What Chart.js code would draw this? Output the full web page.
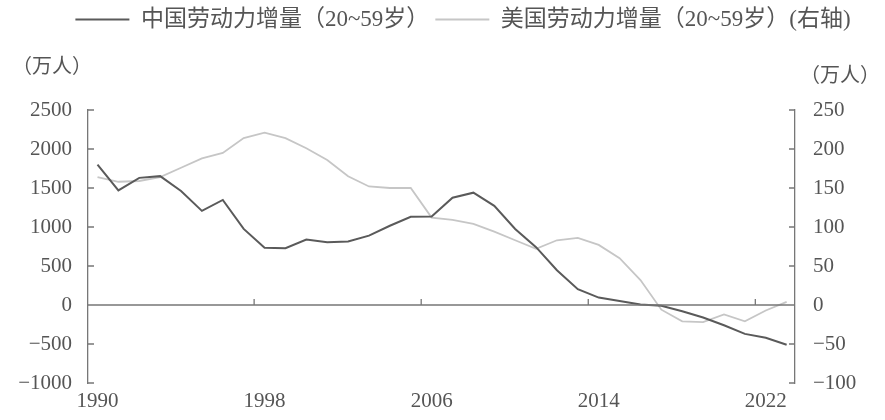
<!DOCTYPE html>
<html><head><meta charset="utf-8">
<script src="https://cdn.jsdelivr.net/npm/chart.js@4.4.1/dist/chart.umd.min.js"></script>
<style>html,body{margin:0;padding:0;background:#fff;} #wrap{width:885px;height:420px;position:relative;}</style>
</head><body><div id="wrap"><canvas id="c"></canvas></div>
<script>
const years = [1990,1991,1992,1993,1994,1995,1996,1997,1998,1999,2000,2001,2002,2003,2004,2005,2006,2007,2008,2009,2010,2011,2012,2013,2014,2015,2016,2017,2018,2019,2020,2021,2022,2023];
const chinaLabor = [1800,1470,1630,1652,1461,1207,1347,975,735,728,839,805,813,889,1016,1131,1135,1376,1440,1271,975,741,445,203,95,50,5,-10,-80,-160,-260,-370,-420,-510];
const usLabor = [164,158,159,164,176,188,195,214,221,214,201,186,165,152,150,150,112,109,104,94,83,72,83,86,77,60,32,-6,-21,-22,-12,-21,-7,4];
const xTickYears = [1990,1998,2006,2014,2022];
const leftTicks = [-1000,-500,0,500,1000,1500,2000,2500];
const rightTicks = [-100,-50,0,50,100,150,200,250];
const seriesNames = ['中国劳动力增量（20~59岁）','美国劳动力增量（20~59岁）(右轴)'];
const unitLabel = '（万人）';

const serif = '"Liberation Serif", "Noto Sans CJK SC", serif';
const textColor = '#555';
const axisColor = '#777';
const fmt = v => String(v).replace('-', '\u2212');

const decor = {
  id: 'decor',
  afterLayout(chart) {
    const lg = chart.legend;
    if (lg) { lg.left += 17; lg.right += 17; }
  },
  afterDraw(chart) {
    const ctx = chart.ctx, a = chart.chartArea;
    const x = chart.scales.x, yl = chart.scales.y, yr = chart.scales.y1;
    ctx.save();
    ctx.strokeStyle = axisColor;
    ctx.lineWidth = 1.3;
    const y0 = yl.getPixelForValue(0);
    ctx.beginPath();
    ctx.moveTo(a.left, y0); ctx.lineTo(a.right, y0);
    yl.ticks.forEach(t => { const p = yl.getPixelForValue(t.value); ctx.moveTo(a.left, p); ctx.lineTo(a.left + 6, p); });
    yr.ticks.forEach(t => { const p = yr.getPixelForValue(t.value); ctx.moveTo(a.right - 6, p); ctx.lineTo(a.right, p); });
    xTickYears.slice(1).forEach(v => { const p = x.getPixelForValue(v - 0.5); ctx.moveTo(p, y0); ctx.lineTo(p, y0 - 6); });
    ctx.stroke();
    ctx.fillStyle = textColor;
    ctx.font = '20px ' + serif;
    ctx.textAlign = 'right';
    ctx.textBaseline = 'middle';
    ctx.fillText(unitLabel, chart.width - 5, a.top - 33);
    ctx.restore();
  }
};

new Chart(document.getElementById('c'), {
  type: 'line',
  data: {
    datasets: [
      { label: seriesNames[0], data: years.map((y, i) => ({x: y, y: chinaLabor[i]})), borderColor: '#5a5a5a', borderWidth: 2, pointRadius: 0, tension: 0, yAxisID: 'y' },
      { label: seriesNames[1], data: years.map((y, i) => ({x: y, y: usLabor[i]})), borderColor: '#c6c6c6', borderWidth: 1.8, pointRadius: 0, tension: 0, yAxisID: 'y1' }
    ]
  },
  options: {
    responsive: true, maintainAspectRatio: false, animation: false, devicePixelRatio: 1,
    layout: { padding: { left: 12, right: 5, top: 2, bottom: 0 } },
    plugins: {
      legend: {
        position: 'top', align: 'center',
        labels: { usePointStyle: true, pointStyle: 'line', pointStyleWidth: 54, color: textColor, padding: 6, font: { size: 23, family: serif } }
      },
      title: {
        display: true, text: unitLabel, position: 'top', align: 'start', weight: 500,
        color: textColor, font: { size: 20, family: serif, weight: 'normal' },
        padding: { top: 15, bottom: 30 }
      },
      tooltip: { enabled: false }
    },
    scales: {
      x: {
        type: 'linear', min: 1989.545, max: 2023.4,
        afterBuildTicks: s => { s.ticks = xTickYears.map(v => ({value: v})); },
        ticks: { callback: v => String(v), autoSkip: false, maxRotation: 0, padding: 6, color: textColor, font: { size: 21, family: serif } },
        grid: { display: false, drawTicks: false },
        border: { display: false },
        afterFit: s => { s.height = 37; }
      },
      y: {
        position: 'left', min: -1000, max: 2500,
        afterBuildTicks: s => { s.ticks = leftTicks.map(v => ({value: v})); },
        ticks: { callback: fmt, padding: 16, color: textColor, font: { size: 21, family: serif } },
        grid: { display: false, drawTicks: false },
        border: { display: true, color: axisColor, width: 1.3 },
        afterFit: s => { s.width = 76; }
      },
      y1: {
        position: 'right', min: -100, max: 250,
        afterBuildTicks: s => { s.ticks = rightTicks.map(v => ({value: v})); },
        ticks: { callback: fmt, padding: 18, color: textColor, font: { size: 21, family: serif } },
        grid: { display: false, drawTicks: false },
        border: { display: true, color: axisColor, width: 1.3 },
        afterFit: s => { s.width = 85; }
      }
    }
  },
  plugins: [decor]
});
</script></body></html>
